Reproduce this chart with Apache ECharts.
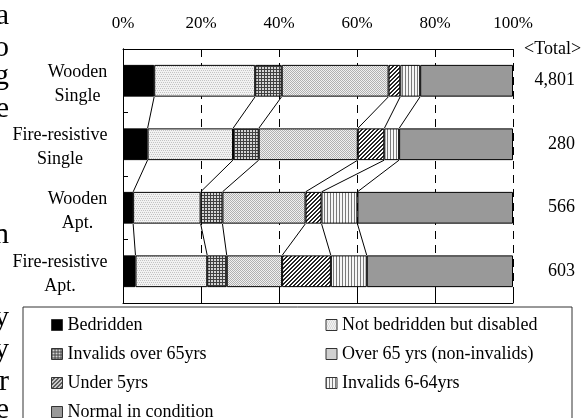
<!DOCTYPE html>
<html>
<head>
<meta charset="utf-8">
<script src="https://cdn.jsdelivr.net/npm/echarts@6/dist/echarts.min.js"></script>
<style>
html,body{margin:0;padding:0;background:#fff;}
#c{width:584px;height:418px;}
</style>
</head>
<body>
<div id="c"></div>
<script>
// ---- data ----
const categories = ['Wooden\nSingle', 'Fire-resistive\nSingle', 'Wooden\nApt.', 'Fire-resistive\nApt.'];
const totals = ['4,801', '280', '566', '603'];
const seriesNames = ['Bedridden', 'Not bedridden but disabled', 'Invalids over 65yrs',
  'Over 65 yrs (non-invalids)', 'Under 5yrs', 'Invalids 6-64yrs', 'Normal in condition'];
const bedridden      = [8.0, 6.3, 2.6, 3.2];
const notBedridden   = [25.9, 21.9, 17.3, 18.4];
const invalidsOver65 = [6.8, 6.6, 5.6, 5.0];
const over65         = [27.4, 25.4, 21.3, 14.2];
const under5         = [3.0, 6.8, 4.1, 12.5];
const invalids6to64  = [5.1, 3.8, 9.2, 9.2];
const normal         = [23.8, 29.2, 39.9, 37.5];
const xTicks = [0, 20, 40, 60, 80, 100];
const totalTitle = '<Total>';

const values = [bedridden, notBedridden, invalidsOver65, over65, under5, invalids6to64, normal];

// ---- styles ----
const FONT = '"Liberation Serif", "DejaVu Serif", serif';
const FS = 18;
const AXFS = 17;

function pat(w, h, bg, fg, pixels) {
  const c = document.createElement('canvas');
  c.width = w; c.height = h;
  const x = c.getContext('2d');
  x.fillStyle = bg; x.fillRect(0, 0, w, h);
  x.fillStyle = fg;
  pixels.forEach(p => x.fillRect(p[0], p[1], 1, 1));
  return { image: c, repeat: 'repeat' };
}
const fills = [
  '#000000',
  pat(4, 4, '#f2f2f2', '#c4c4c4', [[0,0],[2,0],[1,2],[3,2]]),
  pat(3, 3, '#d4d4d4', '#404040', [[0,0],[1,0],[2,0],[0,1],[0,2]]),
  pat(2, 2, '#f0f0f0', '#b0b0b0', [[0,0],[1,1]]),
  pat(4, 4, '#ffffff', '#262626', [[3,0],[2,1],[1,2],[0,3],[2,0],[1,1],[0,2],[3,3]]),
  pat(3, 1, '#f6f6f6', '#7a7a7a', [[0,0]]),
  '#999999'
];

// measure label lines so each multi-line label is centered within its own block
const mctx = document.createElement('canvas').getContext('2d');
mctx.font = FS + 'px ' + FONT;
const rich = {};
categories.forEach((c, i) => {
  const w = Math.max.apply(null, c.split('\n').map(s => mctx.measureText(s).width));
  rich['c' + i] = { width: Math.ceil(w) + 1, align: 'center', fontFamily: FONT, fontSize: FS, lineHeight: 24, color: '#000' };
});

// cumulative boundaries for connectors
function cumAt(row) {
  const out = []; let s = 0;
  for (let k = 0; k < values.length - 1; k++) { s += values[k][row]; out.push(s); }
  return out;
}

const barSeries = seriesNames.map((name, k) => ({
  name: name,
  type: 'bar',
  stack: 'all',
  barWidth: '50%',
  xAxisIndex: 0,
  yAxisIndex: 0,
  data: values[k],
  itemStyle: { color: fills[k], borderColor: '#000', borderWidth: 1 },
  emphasis: { disabled: true },
  z: 3
}));

const connector = {
  type: 'custom',
  xAxisIndex: 0,
  yAxisIndex: 0,
  data: [[0, 0], [0, 1], [0, 2]],
  encode: { x: 0, y: 1 },
  silent: true,
  z: 2,
  renderItem: function (params, api) {
    const r = api.value(1);
    const a = cumAt(r), b = cumAt(r + 1);
    const half = api.size([0, 1])[1] * 0.25;
    const children = a.map((v, k) => {
      const p1 = api.coord([v, r]);
      const p2 = api.coord([b[k], r + 1]);
      return {
        type: 'line',
        shape: { x1: p1[0], y1: p1[1] + half, x2: p2[0], y2: p2[1] - half },
        style: { stroke: '#000', lineWidth: 1 }
      };
    });
    return { type: 'group', children: children };
  }
};

const FRAG = '30px ' + FONT;
const chart = echarts.init(document.getElementById('c'), null, { renderer: 'canvas' });
chart.setOption({
  animation: false,
  backgroundColor: '#fff',
  textStyle: { fontFamily: FONT },
  grid: { left: 123, right: 71, top: 49, bottom: 115 },
  xAxis: [
    {
      type: 'value', position: 'top', min: xTicks[0], max: xTicks[xTicks.length - 1], interval: 20,
      axisLine: { show: true, lineStyle: { color: '#000', width: 1 } },
      axisTick: { show: false },
      axisLabel: { formatter: '{value}%', fontFamily: FONT, fontSize: AXFS, color: '#000', margin: 17 },
      splitLine: { show: true, lineStyle: { color: '#000', width: 1, type: [8, 6] } }
    },
    {
      type: 'value', position: 'bottom', min: xTicks[0], max: xTicks[xTicks.length - 1], interval: 20,
      axisLine: { show: true, lineStyle: { color: '#000', width: 1 } },
      axisTick: { show: true, inside: true, length: 8, lineStyle: { color: '#000' } },
      axisLabel: { show: false },
      splitLine: { show: false }
    }
  ],
  yAxis: [
    {
      type: 'category', data: categories, inverse: true, position: 'left',
      axisLine: { show: true, lineStyle: { color: '#000', width: 1 } },
      axisTick: { show: true, inside: true, length: 5, lineStyle: { color: '#000' } },
      axisLabel: {
        align: 'right', margin: 15, color: '#000', fontFamily: FONT, fontSize: FS, lineHeight: 24,
        padding: [7, 0, 0, 0],
        formatter: function (v, i) {
          return v.split('\n').map(s => '{c' + i + '|' + s + '}').join('\n');
        },
        rich: rich
      }
    },
    {
      type: 'category', data: totals, inverse: true, position: 'right',
      axisLine: { show: true, lineStyle: { color: '#000', width: 1 } },
      axisTick: { show: false },
      axisLabel: { align: 'right', margin: 62, color: '#000', fontFamily: FONT, fontSize: FS }
    }
  ],
  legend: {
    data: seriesNames,
    left: 23, top: 307,
    orient: 'horizontal',
    width: 520,
    padding: [9, 25, 30, 28],
    itemWidth: 11, itemHeight: 11, itemGap: 11,
    icon: 'rect',
    selectedMode: false,
    borderColor: '#333', borderWidth: 1, backgroundColor: '#fff',
    itemStyle: { borderColor: '#333', borderWidth: 1 },
    formatter: function (name) {
      const idx = seriesNames.indexOf(name);
      return (idx % 2 === 0 ? '{a|' : '{b|') + name + '}';
    },
    textStyle: {
      fontFamily: FONT, fontSize: FS, color: '#000', lineHeight: 18,
      rich: {
        a: { width: 247, lineHeight: 18, fontFamily: FONT, fontSize: FS, color: '#000' },
        b: { width: 205, lineHeight: 18, fontFamily: FONT, fontSize: FS, color: '#000' }
      }
    }
  },
  graphic: [
    { type: 'text', left: 524, top: 40, style: { text: totalTitle, font: FS + 'px ' + FONT, fill: '#000' } },
    { type: 'group', silent: true, children: [
      { type: 'text', x: 9, y: 1,   style: { text: 'a', font: FRAG, fill: '#000', align: 'right' } },
      { type: 'text', x: 9, y: 33,  style: { text: 'o', font: FRAG, fill: '#000', align: 'right' } },
      { type: 'text', x: 9, y: 61,  style: { text: 'g', font: FRAG, fill: '#000', align: 'right' } },
      { type: 'text', x: 9, y: 94,  style: { text: 'e', font: FRAG, fill: '#000', align: 'right' } },
      { type: 'text', x: 9, y: 220, style: { text: 'n', font: FRAG, fill: '#000', align: 'right' } },
      { type: 'text', x: 9, y: 303, style: { text: 'y', font: FRAG, fill: '#000', align: 'right' } },
      { type: 'text', x: 9, y: 335, style: { text: 'y', font: FRAG, fill: '#000', align: 'right' } },
      { type: 'text', x: 9, y: 367, style: { text: 'r', font: FRAG, fill: '#000', align: 'right' } },
      { type: 'text', x: 9, y: 395, style: { text: 'e', font: FRAG, fill: '#000', align: 'right' } }
    ] }
  ],
  series: barSeries.concat([connector])
});
</script>
</body>
</html>
